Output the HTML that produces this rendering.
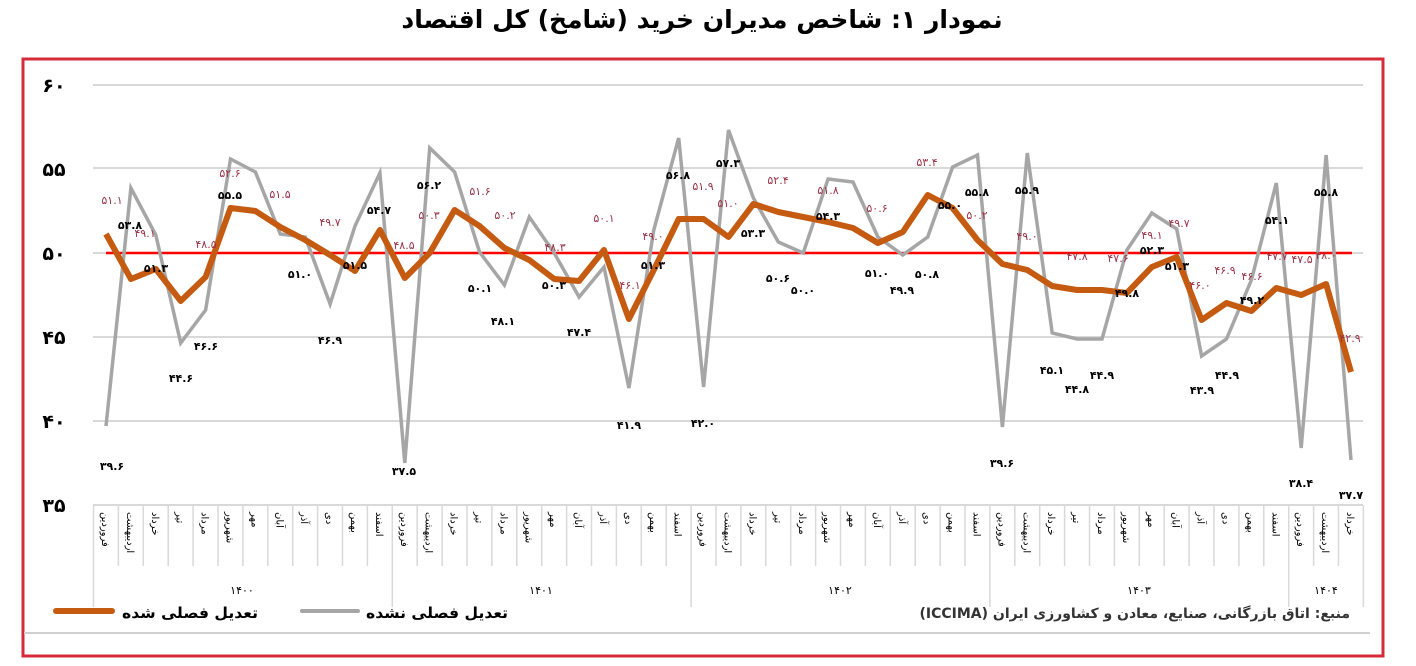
<!DOCTYPE html>
<html><head><meta charset="utf-8"><style>
body{margin:0;background:#fff;width:1416px;height:662px;overflow:hidden;font-family:"DejaVu Sans","Liberation Sans",sans-serif}
</style></head><body>
<svg width="1416" height="662" xmlns="http://www.w3.org/2000/svg" font-family="DejaVu Sans, Liberation Sans, sans-serif">
<rect x="0" y="0" width="1416" height="662" fill="#fff"/>
<text x="702" y="28" text-anchor="middle" font-size="25" font-weight="bold" direction="rtl">نمودار ۱: شاخص مدیران خرید (شامخ) کل اقتصاد</text>
<rect x="23" y="59" width="1360" height="597" fill="none" stroke="#d62a3a" stroke-width="3"/>
<g stroke="#d9d9d9" stroke-width="2">
<line x1="93" y1="85" x2="1363" y2="85"/><line x1="93" y1="168" x2="1363" y2="168"/><line x1="93" y1="253" x2="1363" y2="253"/><line x1="93" y1="337" x2="1363" y2="337"/><line x1="93" y1="421" x2="1363" y2="421"/><line x1="93" y1="505" x2="1363" y2="505"/>
</g>
<g font-size="19" font-weight="bold" text-anchor="middle">
<text x="54" y="92">۶۰</text><text x="54" y="176">۵۵</text><text x="54" y="260">۵۰</text><text x="54" y="344">۴۵</text><text x="54" y="428">۴۰</text><text x="54" y="512">۳۵</text>
</g>
<g id="ax" stroke="#d9d9d9" stroke-width="1.5"></g>
<g id="ml" font-size="10" fill="#000"></g>
<g font-size="11" text-anchor="middle">
<text x="242" y="594">۱۴۰۰</text><text x="541" y="594">۱۴۰۱</text><text x="840" y="594">۱۴۰۲</text><text x="1139" y="594">۱۴۰۳</text><text x="1326" y="594">۱۴۰۴</text>
</g>
<line x1="106" y1="253" x2="1352" y2="253" stroke="#ff0000" stroke-width="2.5"/>
<polyline id="g" fill="none" stroke="#a6a6a6" stroke-width="3.5" stroke-linejoin="miter"/>
<polyline id="o" fill="none" stroke="#c55a11" stroke-width="6" stroke-linejoin="round"/>
<g id="la" font-size="11" fill="#9b3347" text-anchor="middle"></g>
<g id="lu" font-size="11" fill="#000" text-anchor="middle"></g>
<line x1="24" y1="633" x2="1370" y2="633" stroke="#d0d0d0" stroke-width="2"/>
<line x1="56" y1="611" x2="112" y2="611" stroke="#c55a11" stroke-width="6" stroke-linecap="round"/>
<text x="258" y="618" text-anchor="start" font-size="15" font-weight="bold" direction="rtl" textLength="136" lengthAdjust="spacingAndGlyphs">تعدیل فصلی شده</text>
<line x1="302" y1="611" x2="358" y2="611" stroke="#a6a6a6" stroke-width="4" stroke-linecap="round"/>
<text x="508" y="618" text-anchor="start" font-size="15" font-weight="bold" direction="rtl" textLength="142" lengthAdjust="spacingAndGlyphs">تعدیل فصلی نشده</text>
<text x="1350" y="618" text-anchor="start" font-size="14" font-weight="bold" fill="#333" direction="rtl">منبع: اتاق بازرگانی، صنایع، معادن و کشاورزی ایران (ICCIMA)</text>
</svg>
<script>
const X=i=>106+24.9*i;
const g=[426,188,235,343,310,159,172,234,237,304,226,173,463,148,172,252,285,217,253,297,267,388,230,138,387,130,198,242,253,179,182,237,255,237,167,155,427,153,333,339,339,250,213,229,356,339,280,183,448,155,460];
const o=[234,279,269,301,277,208,211,227,240,255,271,230,278,253,210,226,248,260,279,281,250,319,270,219,219,237,204,212,217,222,228,243,232,195,208,240,264,270,286,290,290,293,267,257,320,303,311,288,295,284,372];
document.getElementById('g').setAttribute('points',g.map((y,i)=>X(i)+','+y).join(' '));
document.getElementById('o').setAttribute('points',o.map((y,i)=>X(i)+','+y).join(' '));
const ns='http://www.w3.org/2000/svg';
function t(par,x,y,s,extra){const e=document.createElementNS(ns,'text');e.setAttribute('x',x);e.setAttribute('y',y);e.textContent=s;if(extra)for(const k in extra)e.setAttribute(k,extra[k]);document.getElementById(par).appendChild(e);}
function ln(x1,y1,x2,y2){const e=document.createElementNS(ns,'line');e.setAttribute('x1',x1);e.setAttribute('y1',y1);e.setAttribute('x2',x2);e.setAttribute('y2',y2);document.getElementById('ax').appendChild(e);}
for(let k=0;k<=51;k++){const x=93.5+24.9*k;const yr=(k%12==0)||k==51;ln(x,505,x,yr?607:566);}
const m=['فروردین','اردیبهشت','خرداد','تیر','مرداد','شهریور','مهر','آبان','آذر','دی','بهمن','اسفند'];
for(let i=0;i<51;i++){const x=X(i)-4,y=512;t('ml',x,y,m[i%12],{transform:`rotate(90 ${x} ${y})`,direction:'rtl','text-anchor':'end'});}
const fa=s=>s.replace(/\d/g,d=>'۰۱۲۳۴۵۶۷۸۹'[d]);
const A=[[112,204,'51.1'],[145,237,'49.1'],[206,248,'48.5'],[230,177,'52.6'],[280,198,'51.5'],[330,226,'49.7'],[404,249,'48.5'],[429,219,'50.3'],[480,195,'51.6'],[505,219,'50.2'],[555,251,'48.3'],[604,222,'50.1'],[630,289,'46.1'],[653,240,'49.0'],[703,190,'51.9'],[728,207,'51.0'],[778,184,'52.4'],[828,194,'51.8'],[877,212,'50.6'],[927,166,'53.4'],[977,219,'50.2'],[1027,240,'49.0'],[1077,260,'47.8'],[1118,262,'47.6'],[1152,239,'49.1'],[1179,227,'49.7'],[1200,289,'46.0'],[1225,274,'46.9'],[1252,280,'46.6'],[1277,260,'47.7'],[1302,263,'47.5'],[1326,259,'48.0'],[1350,342,'42.9']];
const U=[[112,470,'39.6'],[130,229,'53.8'],[156,272,'51.3'],[181,382,'44.6'],[206,350,'46.6'],[230,199,'55.5'],[300,278,'51.0'],[330,344,'46.9'],[355,269,'51.5'],[379,214,'54.7'],[404,475,'37.5'],[429,189,'56.2'],[480,292,'50.1'],[503,325,'48.1'],[554,289,'50.3'],[579,336,'47.4'],[653,269,'51.3'],[629,429,'41.9'],[678,179,'56.8'],[703,427,'42.0'],[728,167,'57.3'],[753,237,'53.3'],[778,282,'50.6'],[803,294,'50.0'],[828,220,'54.3'],[877,277,'51.0'],[902,294,'49.9'],[927,278,'50.8'],[950,209,'55.0'],[977,196,'55.8'],[1002,467,'39.6'],[1027,194,'55.9'],[1052,374,'45.1'],[1077,393,'44.8'],[1102,379,'44.9'],[1127,297,'49.8'],[1152,254,'52.3'],[1177,270,'51.3'],[1202,394,'43.9'],[1227,379,'44.9'],[1252,304,'49.2'],[1277,224,'54.1'],[1301,487,'38.4'],[1326,196,'55.8'],[1351,499,'37.7']];
A.forEach(a=>t('la',a[0],a[1],fa(a[2])));
U.forEach(a=>t('lu',a[0],a[1],fa(a[2]),{'font-weight':'bold'}));
</script>
</body></html>
